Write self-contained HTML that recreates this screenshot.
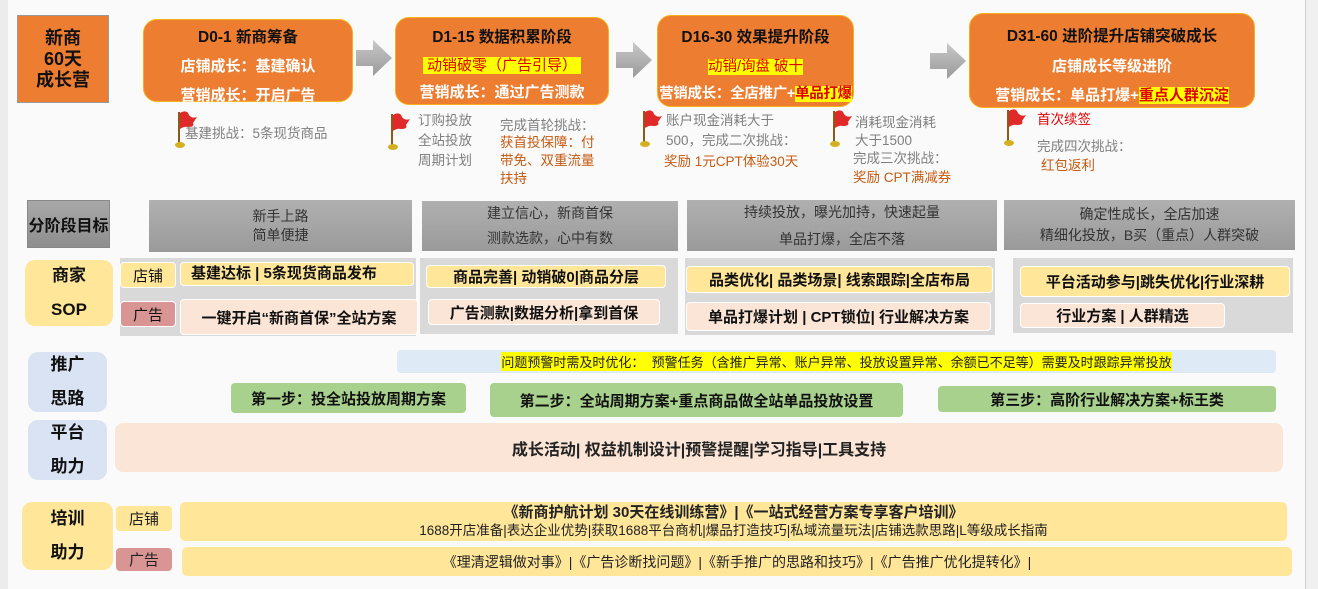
<!DOCTYPE html>
<html><head><meta charset="utf-8"><style>
*{margin:0;padding:0;box-sizing:border-box}
body{width:1318px;height:589px;background:#fafafa;position:relative;overflow:hidden;font-family:"Liberation Sans","Noto Sans CJK SC",sans-serif;color:#222}
.a{position:absolute;white-space:nowrap}
.c{display:flex;align-items:center;justify-content:center;text-align:center}
.stage{position:absolute;background:#ED7D31;border:1.5px solid #F5B21C;border-radius:14px;text-align:center;font-weight:bold;font-size:15px;color:#fff;white-space:nowrap}
.stage .t{color:#111;font-size:15.5px}
.hl{background:#ffff00;color:#e00000}
.arrow{position:absolute;width:36px;height:36px}
.g{color:#7f7f7f;font-size:13.5px;line-height:19px}
.o{color:#c55a11;font-size:13.5px;line-height:19px}
.goal{position:absolute;background:linear-gradient(#b0b0b0,#9a9a9a);color:#333;font-size:14px;line-height:22px;white-space:nowrap}
.lab{position:absolute;border-radius:10px;font-weight:bold;font-size:17px;line-height:34px;color:#111}
.panel{position:absolute;background:#d9d9d9}
.y{background:#FFE699}.p{background:#FBE5D6}.pk{background:#D99594}
.it{position:absolute;border-radius:4px;font-weight:bold;font-size:15px;color:#111;border:1px solid #fff;white-space:nowrap}
.gr{position:absolute;background:#A9D18E;border-radius:4px;font-weight:bold;font-size:15px;color:#111;white-space:nowrap}
</style></head><body>
<div class="a" style="left:0;top:0;width:8px;height:589px;background:#ececec"></div>
<div class="a" style="left:1305px;top:0;width:13px;height:589px;background:#f0f0f0;border-left:1px solid #cfcfcf"></div>

<div class="a c" style="left:17px;top:15px;width:92px;height:88px;background:#ED7D31;border:1px solid #999;font-weight:bold;font-size:18px;line-height:21px;color:#111">新商<br>60天<br>成长营</div>

<svg width="0" height="0" style="position:absolute"><defs>
<linearGradient id="ag" x1="0" y1="0" x2="0" y2="1"><stop offset="0" stop-color="#c8c8c8"/><stop offset="1" stop-color="#9a9a9a"/></linearGradient>
<symbol id="ar" viewBox="0 0 36 36"><path d="M0 10H17V0L36 18L17 36V26H0Z" fill="url(#ag)"/></symbol>
<symbol id="fl" viewBox="0 0 22 40"><rect x="3" y="3" width="2" height="32" fill="#8a5a1a"/><path d="M5 4 Q12 0 14 6 Q17 10 22 8 L18 14 Q20 18 13 18 Q9 17 5 20Z" fill="#e02a2a"/><ellipse cx="5" cy="36" rx="5" ry="3" fill="#d4b020"/></symbol>
</defs></svg>

<div class="stage" style="left:143px;top:19px;width:210px;height:83px"><div class="t" style="margin-top:5px">D0-1 新商筹备</div><div style="margin-top:8px">店铺成长：基建确认</div><div style="margin-top:8px">营销成长：开启广告</div></div>
<svg class="arrow" style="left:356px;top:40px"><use href="#ar"/></svg>
<div class="stage" style="left:395px;top:17px;width:214px;height:88px"><div class="t" style="margin-top:7px">D1-15 数据积累阶段</div><div style="margin-top:7px"><span class="hl" style="padding:0 4px;font-weight:normal">动销破零（广告引导）</span></div><div style="margin-top:6px">营销成长：通过广告测款</div></div>
<svg class="arrow" style="left:616px;top:42px"><use href="#ar"/></svg>
<div class="stage" style="left:657px;top:15px;width:197px;height:92px;font-size:14.5px"><div class="t" style="margin-top:9px">D16-30 效果提升阶段</div><div style="margin-top:8px"><span class="hl" style="font-weight:normal">动销/询盘 破十</span></div><div style="margin-top:6px;letter-spacing:-0.3px">营销成长：全店推广+<span class="hl">单品打爆</span></div></div>
<svg class="arrow" style="left:930px;top:43px"><use href="#ar"/></svg>
<div class="stage" style="left:969px;top:13px;width:286px;height:95px"><div class="t" style="margin-top:10px">D31-60 进阶提升店铺突破成长</div><div style="margin-top:9px">店铺成长等级进阶</div><div style="margin-top:8px">营销成长：单品打爆+<span class="hl">重点人群沉淀</span></div></div>

<svg class="a" style="left:175px;top:109px" width="22" height="40"><use href="#fl"/></svg>
<svg class="a" style="left:388px;top:111px" width="22" height="40"><use href="#fl"/></svg>
<svg class="a" style="left:640px;top:108px" width="22" height="40"><use href="#fl"/></svg>
<svg class="a" style="left:830px;top:108px" width="22" height="40"><use href="#fl"/></svg>
<svg class="a" style="left:1004px;top:107px" width="22" height="40"><use href="#fl"/></svg>

<div class="a g" style="left:185px;top:124px">基建挑战：5条现货商品</div>
<div class="a g" style="left:418px;top:111px;line-height:20px">订购投放<br>全站投放<br>周期计划</div>
<div class="a g" style="left:500px;top:116px">完成首轮挑战：</div>
<div class="a o" style="left:500px;top:134px;line-height:18px">获首投保障：付<br>带免、双重流量<br>扶持</div>
<div class="a g" style="left:666px;top:111px;line-height:20px">账户现金消耗大于<br>500，完成二次挑战：</div>
<div class="a o" style="left:664px;top:152px">奖励 1元CPT体验30天</div>
<div class="a g" style="left:855px;top:114px;line-height:18px">消耗现金消耗<br>大于1500</div>
<div class="a g" style="left:853px;top:150px;line-height:18px">完成三次挑战：</div>
<div class="a o" style="left:853px;top:168px">奖励 CPT满减券</div>
<div class="a" style="left:1037px;top:108px;color:#e00000;font-size:13.5px">首次续签</div>
<div class="a g" style="left:1037px;top:137px">完成四次挑战：</div>
<div class="a o" style="left:1041px;top:156px">红包返利</div>

<div class="a c" style="left:27px;top:200px;width:83px;height:48px;background:linear-gradient(#a8a8a8,#8e8e8e);border:1px solid #888;font-weight:bold;font-size:16px;color:#111">分阶段目标</div>
<div class="goal c" style="left:149px;top:200px;width:263px;height:52px;line-height:19px">新手上路<br>简单便捷</div>
<div class="goal c" style="left:422px;top:201px;width:256px;height:50px;line-height:25px">建立信心，新商首保<br>测款选款，心中有数</div>
<div class="goal c" style="left:687px;top:200px;width:310px;height:51px;line-height:27px">持续投放，曝光加持，快速起量<br>单品打爆，全店不落</div>
<div class="goal c" style="left:1004px;top:200px;width:291px;height:50px;line-height:21px">确定性成长，全店加速<br>精细化投放，B买（重点）人群突破</div>

<div class="lab y c" style="left:25px;top:260px;width:88px;height:66px">商家<br>SOP</div>
<div class="panel" style="left:120px;top:258px;width:296px;height:78px"></div>
<div class="panel" style="left:420px;top:258px;width:258px;height:76px"></div>
<div class="panel" style="left:685px;top:258px;width:310px;height:77px"></div>
<div class="panel" style="left:1013px;top:258px;width:280px;height:75px"></div>
<div class="it y c" style="left:120px;top:262px;width:56px;height:26px;font-weight:normal">店铺</div>
<div class="it pk c" style="left:120px;top:301px;width:56px;height:26px;font-weight:normal">广告</div>
<div class="it y" style="left:180px;top:262px;width:234px;height:24px;padding-left:10px;line-height:22px">基建达标 | 5条现货商品发布</div>
<div class="it p c" style="left:180px;top:299px;width:238px;height:36px">一键开启“新商首保”全站方案</div>
<div class="it y c" style="left:426px;top:265px;width:240px;height:23px">商品完善| 动销破0|商品分层</div>
<div class="it p c" style="left:428px;top:299px;width:232px;height:26px">广告测款|数据分析|拿到首保</div>
<div class="it y c" style="left:686px;top:266px;width:307px;height:27px">品类优化| 品类场景| 线索跟踪|全店布局</div>
<div class="it p c" style="left:686px;top:302px;width:305px;height:29px">单品打爆计划 | CPT锁位| 行业解决方案</div>
<div class="it y c" style="left:1020px;top:266px;width:270px;height:31px">平台活动参与|跳失优化|行业深耕</div>
<div class="it p c" style="left:1020px;top:303px;width:205px;height:25px">行业方案 | 人群精选</div>

<div class="lab c" style="left:28px;top:352px;width:79px;height:60px;background:#DAE3F3">推广<br>思路</div>
<div class="a c" style="left:397px;top:350px;width:879px;height:23px;background:#DEEAF6;border-radius:4px;font-size:13px"><span style="background:#ffff00">问题预警时需及时优化：&nbsp;&nbsp;预警任务（含推广异常、账户异常、投放设置异常、余额已不足等）需要及时跟踪异常投放</span></div>
<div class="gr c" style="left:231px;top:383px;width:235px;height:30px">第一步：投全站投放周期方案</div>
<div class="gr c" style="left:490px;top:383px;width:413px;height:34px">第二步：全站周期方案+重点商品做全站单品投放设置</div>
<div class="gr c" style="left:938px;top:386px;width:338px;height:26px">第三步：高阶行业解决方案+标王类</div>

<div class="lab c" style="left:28px;top:420px;width:79px;height:60px;background:#DAE3F3">平台<br>助力</div>
<div class="a c p" style="left:115px;top:423px;width:1168px;height:49px;border-radius:8px;font-weight:bold;font-size:16px">成长活动| 权益机制设计|预警提醒|学习指导|工具支持</div>

<div class="lab y c" style="left:22px;top:502px;width:91px;height:68px">培训<br>助力</div>
<div class="a y c" style="left:116px;top:506px;width:56px;height:25px;border-radius:4px;font-size:15px">店铺</div>
<div class="a pk c" style="left:116px;top:548px;width:56px;height:23px;border-radius:4px;font-size:15px">广告</div>
<div class="a y c" style="left:180px;top:502px;width:1107px;height:39px;border-radius:5px;flex-direction:column;line-height:18px"><div style="font-weight:bold;font-size:15px">《新商护航计划 30天在线训练营》|《一站式经营方案专享客户培训》</div><div style="font-size:13.5px">1688开店准备|表达企业优势|获取1688平台商机|爆品打造技巧|私域流量玩法|店铺选款思路|L等级成长指南</div></div>
<div class="a y c" style="left:182px;top:547px;width:1110px;height:29px;border-radius:5px;font-size:14px">《理清逻辑做对事》|《广告诊断找问题》|《新手推广的思路和技巧》|《广告推广优化提转化》|</div>
</body></html>
